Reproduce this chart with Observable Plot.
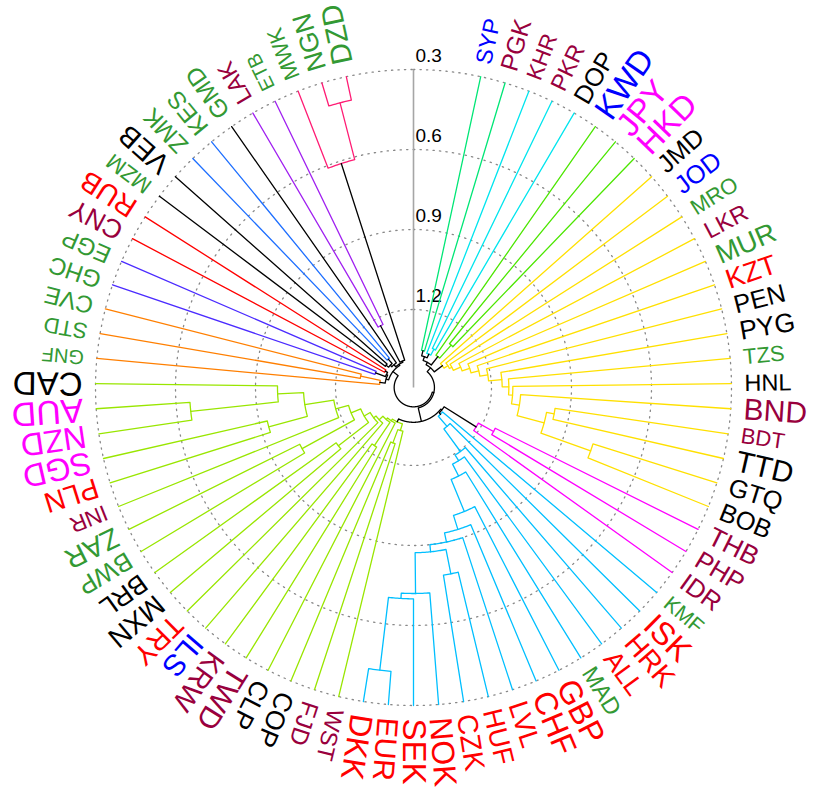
<!DOCTYPE html>
<html>
<head>
<meta charset="utf-8">
<script src="https://cdn.jsdelivr.net/npm/d3@7"></script>
<script src="https://cdn.jsdelivr.net/npm/@observablehq/plot@0.6"></script>
<style>
  html, body { margin: 0; padding: 0; background: #fff; }
  #chart svg { display: block; }
</style>
</head>
<body>
<div id="chart"></div>
<script>
// ---------------- data ----------------
const leaves = ["SYP","PGK","KHR","PKR","DOP","KWD","JPY","HKD","JMD","JOD","MRO","LKR","MUR","KZT","PEN","PYG","TZS","HNL","BND","BDT","TTD","GTQ","BOB","THB","PHP","IDR","KMF","ISK","HRK","ALL","MAD","GBP","CHF","LVL","HUF","CZK","NOK","SEK","EUR","DKK","WST","FJD","COP","CLP","TWD","KRW","ILS","TRY","MXN","BRL","BWP","ZAR","INR","PLN","SGD","NZD","AUD","CAD","GNF","STD","CVE","GHC","EGP","CNY","RUB","MZM","VEB","ZMK","KES","GMD","LAK","ETB","MWK","NGN","DZD"];

// label colour group per leaf: B blue, M maroon, K black, R red, G green, P magenta
const labelGroup = ["B","M","M","M","K","B","P","P","K","B","G","M","G","R","K","K","G","K","M","M","K","K","K","M","M","M","G","R","R","R","G","R","R","R","R","R","R","R","R","R","M","M","K","K","M","M","B","R","K","K","G","G","M","R","P","P","P","K","G","G","G","G","G","M","R","G","K","G","G","G","M","G","G","G","G"];

// label weight (font size) per leaf
const labelSize = [23,25,22.5,23.5,25.5,33,33,33,25.5,25.5,22,23.5,27.5,27.5,25.5,26.5,22,23.5,30,22,30,25.5,25.5,26.5,25.5,25.5,21,32,28.5,26.5,23.5,32,32,27.5,27.5,28.5,32,33,30,32,23.5,24.5,26.5,26.5,30,28.5,30,28.5,28.5,26.5,25.5,28.5,22.5,28.5,32,32,34,33,20,22,24,24,24,26.5,28.5,22,28.5,24.5,24.5,24.5,23.5,20,22,26.5,29.5];

// merges: [node id, child a, child b, height]
const merges = [
  ["A","SYP","PGK",1.35],
  ["B1","PKR","DOP",1.33],
  ["B","KHR","B1",1.355],
  ["C1","JPY","HKD",1.28],
  ["C","KWD","C1",1.345],
  ["AB","A","B",1.37],
  ["ABC","AB","C",1.385],
  ["D12","GTQ","BOB",0.787],
  ["D11","BDT","TTD",0.956],
  ["D10","D11","D12",0.985],
  ["D9","BND","D10",1.09],
  ["D8","HNL","D9",1.12],
  ["D7","TZS","D8",1.135],
  ["D6","PYG","D7",1.16],
  ["D5","PEN","D6",1.21],
  ["D4","KZT","D5",1.24],
  ["D3","MUR","D4",1.27],
  ["D2","LKR","D3",1.30],
  ["D1","MRO","D2",1.33],
  ["D0","JOD","D1",1.34],
  ["D","JMD","D0",1.357],
  ["ABCD","ABC","D",1.395],
  ["E1","THB","PHP",1.15],
  ["E","E1","IDR",1.215],
  ["F10","EUR","DKK",0.425],
  ["F9","SEK","F10",0.70],
  ["F8","NOK","F9",0.72],
  ["F7","HUF","CZK",0.78],
  ["F6","F7","F8",0.873],
  ["F5","LVL","F6",0.90],
  ["F4","CHF","F5",0.935],
  ["F3","GBP","F4",0.99],
  ["F2","MAD","F3",1.12],
  ["F1b","ALL","F2",1.17],
  ["F1a","HRK","F1b",1.195],
  ["F0","ISK","F1a",1.30],
  ["F","KMF","F0",1.35],
  ["EF","E","F",1.357],
  ["G12","NZD","AUD",0.6525],
  ["G11","CAD","G12",0.9825],
  ["G10","PLN","SGD",0.93],
  ["G9","G10","G11",1.08],
  ["G8","INR","G9",1.19],
  ["G7","BWP","ZAR",1.016],
  ["G6","G7","G8",1.24],
  ["G5","MXN","BRL",1.136],
  ["G4","G5","G6",1.279],
  ["G3","TRY","G4",1.305],
  ["G2","ILS","G3",1.316],
  ["G1b","TWD","KRW",1.23],
  ["G1","G1b","G2",1.335],
  ["G0","CLP","G1",1.3425],
  ["Gw1","FJD","COP",1.271],
  ["Gw","WST","Gw1",1.324],
  ["G","Gw","G0",1.35],
  ["GEF","G","EF",1.362],
  ["REST","ABCD","GEF",1.414],
  ["H1","STD","CVE",1.29],
  ["H","GNF","H1",1.365],
  ["I","GHC","EGP",1.34],
  ["J","CNY","RUB",1.37],
  ["IJ","I","J",1.38],
  ["HIJ","H","IJ",1.385],
  ["K","MZM","VEB",1.36],
  ["L","ZMK","KES",1.35],
  ["KL","K","L",1.372],
  ["KLM","KL","GMD",1.38],
  ["N","LAK","ETB",1.23],
  ["O1","NGN","DZD",0.39],
  ["O","MWK","O1",0.61],
  ["NO","N","O",1.385],
  ["KLMNO","KLM","NO",1.39],
  ["LEFT","HIJ","KLMNO",1.395],
  ["ROOT","REST","LEFT",1.42]
];

// branch colour of each coloured cluster
const clusterColors = [
  ["A","#00E676"],["B","#00E5EE"],["C","#4CE600"],["D","#FFE000"],
  ["E","#FF00FF"],["F","#00BFFF"],["G","#99E600"],["H","#FF7F00"],
  ["I","#4B2BFF"],["J","#FF0000"],["K","#000000"],["L","#1E6FFF"],
  ["N","#A020F0"],["O","#FF1C74"]
];

const gridTicks = [0.3, 0.6, 0.9, 1.2];

// ---------------- layout ----------------
const groupColor = {B:"#0000FF", M:"#99003D", K:"#000000", R:"#FF0000", G:"#339933", P:"#FF00FF"};
const PX = 80 / 0.3;            // pixels per height unit
const HMAX = 0.3 + 318 / PX;    // height at the centre
const LEAF_H = 0.3;
const START = 12.2, END = 347.8;
const LABEL_R = 331 / PX;
const rad = a => a * Math.PI / 180;
const pt = (r, a) => ({x: r * Math.sin(rad(a)), y: r * Math.cos(rad(a))});

const nodes = new Map();
leaves.forEach((name, i) => nodes.set(name, {
  name, leaf: true, h: LEAF_H, children: [],
  angle: START + i * (END - START) / (leaves.length - 1)
}));
for (const [id, a, b, h] of merges) {
  const A = nodes.get(a), B = nodes.get(b);
  nodes.set(id, {name: id, h, children: [A, B], angle: (A.angle + B.angle) / 2});
}
function paint(n, c) { n.color = c; n.children.forEach(ch => paint(ch, c)); }
for (const [id, c] of clusterColors) paint(nodes.get(id), c);

const segs = [];
let sid = 0;
for (const [id] of merges) {
  const n = nodes.get(id);
  const col = n.color || "#000000";
  const [A, B] = n.children;
  const r = HMAX - n.h;
  const path = [];
  path.push(pt(HMAX - A.h, A.angle));
  const steps = Math.max(2, Math.ceil(Math.abs(B.angle - A.angle) / 0.5));
  for (let s = 0; s <= steps; s++) path.push(pt(r, A.angle + (B.angle - A.angle) * s / steps));
  path.push(pt(HMAX - B.h, B.angle));
  path.forEach(p => segs.push({...p, id: sid, color: col}));
  sid++;
}

const circles = [];
gridTicks.forEach((t, k) => {
  for (let a = 0; a <= 360; a += 1) circles.push({...pt(HMAX - t, a), t});
});

const labels = leaves.map((name, i) => {
  const a = nodes.get(name).angle;
  return {...pt(LABEL_R, a), name, rot: a - 90, fill: groupColor[labelGroup[i]], size: labelSize[i]};
});

const axisLine = [{x1: 0, y1: 0, x2: 0, y2: HMAX - gridTicks[0]}];
const tickLabels = gridTicks.map(t => ({x: 0, y: HMAX - t, label: d3.format(".1f")(t)}));

const W = 822, H = 805, CX = 413, CY = 387;
const chart = Plot.plot({
  width: W, height: H, margin: 0,
  x: {domain: [-CX / PX, (W - CX) / PX], axis: null},
  y: {domain: [-(H - CY) / PX, CY / PX], axis: null},
  color: {type: "identity"},
  style: {fontFamily: "'Liberation Sans', Arial, Helvetica, sans-serif", background: "#fff", overflow: "visible"},
  marks: [
    Plot.line(circles, {x: "x", y: "y", z: "t", stroke: "#888", strokeWidth: 1.3, strokeDasharray: "1.3,5.2"}),
    Plot.link(axisLine, {x1: "x1", y1: "y1", x2: "x2", y2: "y2", stroke: "#a6a6a6", strokeWidth: 1.6}),
    Plot.text(tickLabels, {x: "x", y: "y", text: "label", textAnchor: "start", dx: 2, dy: -14, fontSize: 19, fill: "#000"}),
    Plot.line(segs, {x: "x", y: "y", z: "id", stroke: "color", strokeWidth: 1.3, curve: "linear"}),
    Plot.text(labels, {x: "x", y: "y", text: "name", rotate: "rot", textAnchor: "start", fill: "fill", fontSize: "size"})
  ]
});
document.getElementById("chart").appendChild(chart);
</script>
</body>
</html>
